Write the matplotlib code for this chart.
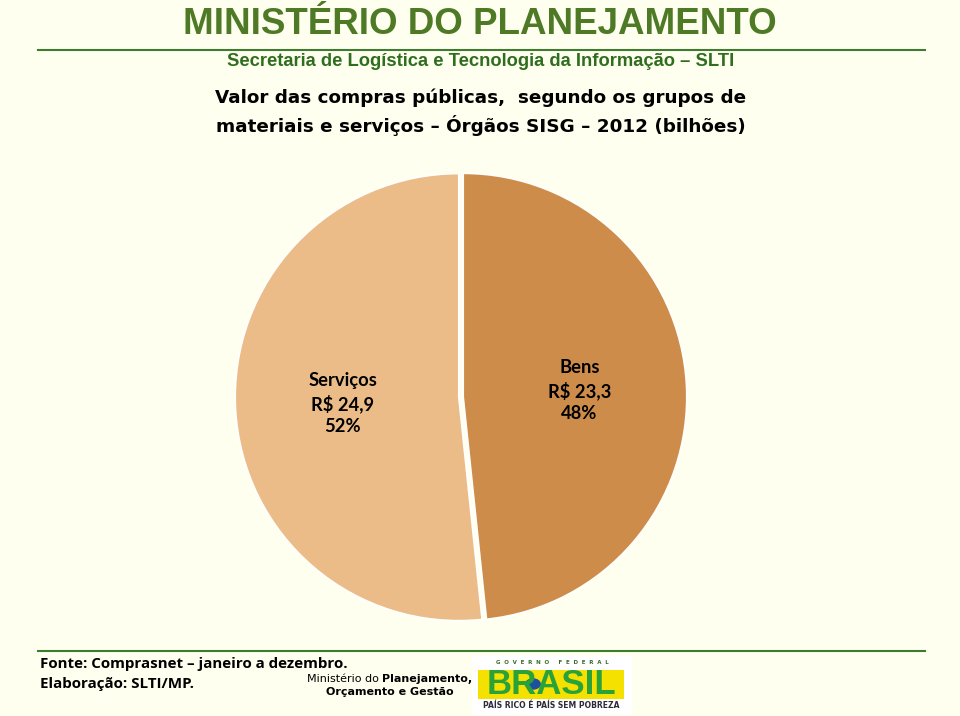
import matplotlib.pyplot as plt
from matplotlib.patches import Rectangle, Circle

# data
categorias = ['Bens', 'Serviços']
valores = [23.3, 24.9]   # R$ bilhoes
cores = ['#CD8C4A', '#EBBC88']

total = sum(valores)
rotulos = []
for nome, v in zip(categorias, valores):
    pct = round(100 * v / total)
    rotulos.append('%s\nR$ %s\n%d%%' % (nome, ('%.1f' % v).replace('.', ','), pct))

bg = '#FFFFF0'
verde = '#4E7A26'

fig = plt.figure(figsize=(9.6, 7.16), dpi=100, facecolor=bg)

def fx(px):
    return px / 960.0

def fy(py):
    return 1 - py / 716.0

# header
fig.text(fx(480), fy(24), 'MINISTÉRIO DO PLANEJAMENTO', ha='center', va='center',
         fontsize=26.5, fontweight='bold', color=verde,
         family=['Liberation Sans', 'DejaVu Sans'])
fig.add_artist(plt.Line2D([fx(38), fx(925)], [fy(50), fy(50)], color='#3E7B2E', lw=1.5))
fig.text(fx(481), fy(62), 'Secretaria de Logística e Tecnologia da Informação – SLTI',
         ha='center', va='center', fontsize=13.2, fontweight='bold', color='#2F6E1E',
         family=['Liberation Sans', 'DejaVu Sans'])

# chart title
fig.text(fx(481), fy(98), 'Valor das compras públicas,  segundo os grupos de',
         ha='center', va='center', fontsize=13.2, fontweight='bold', color='black',
         family=['DejaVu Sans'])
fig.text(fx(481), fy(125), 'materiais e serviços – Órgãos SISG – 2012 (bilhões)',
         ha='center', va='center', fontsize=13.2, fontweight='bold', color='black',
         family=['DejaVu Sans'])

# pie
ax = fig.add_axes([fx(461 - 228), fy(397 + 228), fx(456), 456 / 716.0])
ax.set_facecolor(bg)
wedges, texts = ax.pie(valores, labels=rotulos, colors=cores, startangle=90,
                       counterclock=False, explode=[0.01, 0.01],
                       labeldistance=0.52,
                       wedgeprops=dict(edgecolor='white', linewidth=1.2),
                       textprops=dict(ha='center', va='center', fontsize=13.2,
                                      fontweight='bold', family=['Lato', 'DejaVu Sans'],
                                      multialignment='center', linespacing=1.35))
ax.set_xlim(-1.02, 1.02)
ax.set_ylim(-1.02, 1.02)
ax.set_aspect('equal')
ax.axis('off')

# footer
fig.add_artist(plt.Line2D([fx(38), fx(925)], [fy(651), fy(651)], color='#3E7B2E', lw=1.5))
fig.text(fx(40), fy(664), 'Fonte: Comprasnet – janeiro a dezembro.', ha='left', va='center',
         fontsize=10.9, fontweight='bold', family=['Open Sans', 'DejaVu Sans'])
fig.text(fx(40), fy(684), 'Elaboração: SLTI/MP.', ha='left', va='center',
         fontsize=10.9, fontweight='bold', family=['Open Sans', 'DejaVu Sans'])
fig.text(fx(382), fy(679), 'Ministério do ', ha='right', va='center', fontsize=8,
         family=['DejaVu Sans'])
fig.text(fx(382), fy(679), 'Planejamento,', ha='left', va='center', fontsize=8,
         fontweight='bold', family=['DejaVu Sans'])
fig.text(fx(390), fy(692), 'Orçamento e Gestão', ha='center', va='center', fontsize=8,
         fontweight='bold', family=['DejaVu Sans'])

# logo
fig.add_artist(Rectangle((fx(472), fy(714)), fx(160), 58 / 716.0, transform=fig.transFigure,
                         facecolor='white', edgecolor='none'))
fig.text(fx(552), fy(662), 'G  O  V  E  R  N  O     F  E  D  E  R  A  L', ha='center', va='center',
         fontsize=4, color='#3A6A2A', fontweight='bold')
fig.add_artist(Rectangle((fx(478), fy(699)), fx(146), 29 / 716.0, transform=fig.transFigure,
                         facecolor='#F5E100', edgecolor='none'))
fig.text(fx(551), fy(684), 'BRASIL', ha='center', va='center', fontsize=25, fontweight='bold',
         color='#2AA23A', family=['Liberation Sans', 'DejaVu Sans'])
fig.add_artist(Circle((fx(533), fy(684)), 0.009, transform=fig.transFigure,
                      facecolor='#1F4FA0', edgecolor='#F5E100', lw=1))
fig.text(fx(551), fy(706), 'PAÍS RICO É PAÍS SEM POBREZA', ha='center', va='center',
         fontsize=5.5, fontweight='bold', color='#2B2B3A')

fig.savefig('out.png', dpi=100, facecolor=bg)
